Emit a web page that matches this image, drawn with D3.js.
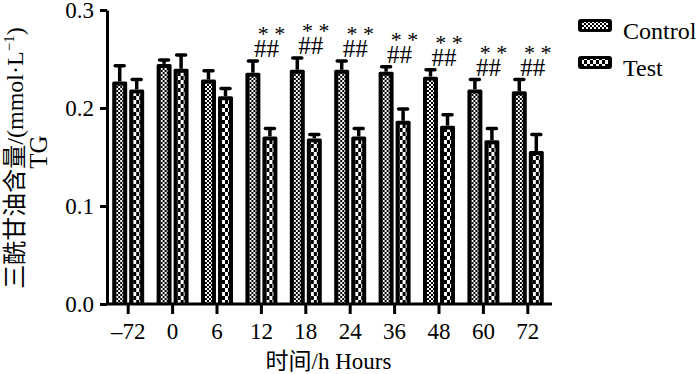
<!DOCTYPE html>
<html>
<head>
<meta charset="utf-8">
<script src="https://cdn.jsdelivr.net/npm/d3@7"></script>
<style>
  body { margin: 0; background: #fff; }
  svg { display: block; }
  text { font-family: "Liberation Serif", "Noto Sans CJK SC", serif; fill: #000; }
</style>
</head>
<body>
<div id="chart"></div>
<script>
// TG content over time, control vs test
var hours = ['\u201372', '0', '6', '12', '18', '24', '36', '48', '60', '72'];
var controlMean = [0.227, 0.245, 0.229, 0.236, 0.239, 0.239, 0.237, 0.232, 0.219, 0.217];
var controlErr  = [0.016, 0.004, 0.009, 0.012, 0.012, 0.009, 0.005, 0.007, 0.010, 0.012];
var testMean    = [0.219, 0.240, 0.212, 0.171, 0.169, 0.171, 0.187, 0.182, 0.167, 0.156];
var testErr     = [0.010, 0.014, 0.008, 0.008, 0.004, 0.008, 0.012, 0.011, 0.012, 0.017];
var marked      = [false, false, false, true, true, true, true, true, true, true];
var groups = ['Control', 'Test'];
var yTicks = [0.0, 0.1, 0.2, 0.3];

var W = 700, H = 374;
var mLeft = 107, mRight = 550, mTop = 10, mBottom = 304;

var svg = d3.select('#chart').append('svg')
    .attr('width', W).attr('height', H);

// patterns
var defs = svg.append('defs');
var pc = defs.append('pattern').attr('id', 'patControl')
    .attr('patternUnits', 'userSpaceOnUse').attr('width', 4).attr('height', 4);
pc.append('rect').attr('width', 4).attr('height', 4).attr('fill', '#000');
pc.append('rect').attr('x', 0).attr('y', 0).attr('width', 2).attr('height', 2).attr('fill', '#fff');
pc.append('rect').attr('x', 2).attr('y', 2).attr('width', 2).attr('height', 2).attr('fill', '#fff');

var pt = defs.append('pattern').attr('id', 'patTest')
    .attr('patternUnits', 'userSpaceOnUse').attr('width', 6).attr('height', 8);
pt.append('rect').attr('width', 6).attr('height', 8).attr('fill', '#000');
pt.append('rect').attr('x', 0).attr('y', 0).attr('width', 3).attr('height', 4).attr('fill', '#fff');
pt.append('rect').attr('x', 3).attr('y', 4).attr('width', 3).attr('height', 4).attr('fill', '#fff');

var x0 = d3.scaleBand().domain(hours).range([mLeft - 1, mRight])
    .paddingInner(0.28).paddingOuter(0.14);
var x1 = d3.scaleBand().domain(groups).range([0, x0.bandwidth()]).paddingInner(0.12);
var y = d3.scaleLinear().domain([0, 0.3]).range([mBottom, mTop]);

var rows = hours.map(function(h, i) {
    return {h: h, i: i, vals: [
        {g: 'Control', v: controlMean[i], e: controlErr[i]},
        {g: 'Test', v: testMean[i], e: testErr[i]}
    ]};
});

var gBars = svg.append('g');
var grp = gBars.selectAll('g.grp').data(rows).enter().append('g')
    .attr('transform', function(d) { return 'translate(' + x0(d.h) + ',0)'; });

var bars = grp.selectAll('g.bar').data(function(d) { return d.vals; }).enter().append('g');

// error bars (drawn first so the bar covers the stem)
bars.append('line')
    .attr('x1', function(d) { return x1(d.g) + x1.bandwidth() / 2; })
    .attr('x2', function(d) { return x1(d.g) + x1.bandwidth() / 2; })
    .attr('y1', function(d) { return y(d.v); })
    .attr('y2', function(d) { return y(d.v + d.e); })
    .attr('stroke', '#000').attr('stroke-width', 3.5);
bars.append('line')
    .attr('x1', function(d) { return x1(d.g) + x1.bandwidth() / 2 - 4.5; })
    .attr('x2', function(d) { return x1(d.g) + x1.bandwidth() / 2 + 4.5; })
    .attr('y1', function(d) { return y(d.v + d.e); })
    .attr('y2', function(d) { return y(d.v + d.e); })
    .attr('stroke', '#000').attr('stroke-width', 3.5).attr('stroke-linecap', 'round');

// outer black bar
bars.append('rect')
    .attr('x', function(d) { return x1(d.g); })
    .attr('y', function(d) { return y(d.v); })
    .attr('width', x1.bandwidth())
    .attr('height', function(d) { return mBottom - y(d.v); })
    .attr('rx', 1.5)
    .attr('fill', '#000');
// inner pattern
bars.append('rect')
    .attr('x', function(d) { return x1(d.g) + 4; })
    .attr('y', function(d) { return y(d.v) + 4; })
    .attr('width', x1.bandwidth() - 8)
    .attr('height', function(d) { return Math.max(0, mBottom - y(d.v) - 4); })
    .attr('fill', function(d) { return d.g === 'Control' ? 'url(#patControl)' : 'url(#patTest)'; });

// significance marks: "* *" over "##", one text block per group
var ann = grp.filter(function(d) { return marked[d.i]; });
var annText = ann.append('text')
    .attr('text-anchor', 'middle')
    .attr('y', function(d) { return y(d.vals[0].v + d.vals[0].e) - 20; });
annText.append('tspan')
    .attr('x', x0.bandwidth() / 2 + 10)
    .style('font-size', '22px')
    .text('* *');
annText.append('tspan')
    .attr('x', x0.bandwidth() / 2 + 5)
    .attr('dy', 16)
    .style('font-size', '25px')
    .text('##');

// axes
var xAxis = svg.append('g')
    .attr('transform', 'translate(0,' + mBottom + ')')
    .call(d3.axisBottom(x0).tickSize(10).tickSizeOuter(0).tickPadding(9));
xAxis.select('.domain').attr('d', 'M' + mLeft + ',0H' + (mRight + 2));
var yAxis = svg.append('g')
    .attr('transform', 'translate(' + mLeft + ',0)')
    .call(d3.axisLeft(y).tickValues(yTicks).tickFormat(d3.format('.1f')).tickSize(7).tickSizeOuter(0).tickPadding(6));

[xAxis, yAxis].forEach(function(a) {
    a.selectAll('.domain').attr('stroke', '#000').attr('stroke-width', 3);
    a.selectAll('.tick line').attr('stroke', '#000').attr('stroke-width', 3);
    a.selectAll('.tick text')
        .style('font-family', '"Liberation Serif", serif')
        .style('font-size', '23px').attr('fill', '#000');
});

// axis titles
svg.append('text')
    .attr('x', (mLeft + mRight) / 2)
    .attr('y', 369)
    .attr('text-anchor', 'middle')
    .style('font-size', '23px')
    .text('\u65f6\u95f4/h Hours');

var yl = svg.append('text')
    .attr('transform', 'translate(23,158) rotate(-90)')
    .attr('text-anchor', 'middle')
    .style('font-size', '24px');
yl.append('tspan').text('\u4e09\u9170\u7518\u6cb9\u542b\u91cf/(mmol\u00b7L');
yl.append('tspan').attr('dy', -9).style('font-size', '15px').text('\u22121');
yl.append('tspan').attr('dy', 9).text(')');

svg.append('text')
    .attr('transform', 'translate(47,152) rotate(-90)')
    .attr('text-anchor', 'middle')
    .style('font-size', '25px')
    .text('TG');

// legend
var leg = svg.append('g').attr('transform', 'translate(578,19)');
var legItems = leg.selectAll('g').data(groups).enter().append('g')
    .attr('transform', function(d, i) { return 'translate(0,' + (i * 37) + ')'; });
legItems.append('rect')
    .attr('width', 34).attr('height', 13).attr('rx', 3)
    .attr('fill', '#000');
legItems.append('rect')
    .attr('x', 4).attr('y', 3).attr('width', 26).attr('height', 7)
    .attr('fill', function(d) { return d === 'Control' ? 'url(#patControl)' : 'url(#patTest)'; });
legItems.append('text')
    .attr('x', 45).attr('y', 20)
    .style('font-size', '24px')
    .text(function(d) { return d; });
</script>
</body>
</html>
